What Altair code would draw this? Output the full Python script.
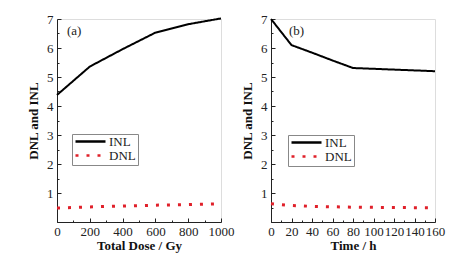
import altair as alt
import pandas as pd

# Panel (a): Total dose
dose = [0, 200, 400, 600, 800, 1000]
inl_a = [4.38, 5.36, 5.96, 6.53, 6.82, 7.02]
dnl_a = [0.48, 0.52, 0.55, 0.58, 0.60, 0.63]

# Panel (b): annealing time
time_h = [0, 20, 40, 60, 80, 160]
inl_b = [7.0, 6.10, 5.84, 5.57, 5.31, 5.20]
time_dnl = [0, 20, 40, 80, 155]
dnl_b = [0.63, 0.57, 0.54, 0.51, 0.49]

series_names = ["INL", "DNL"]
colors = ["#000000", "#e0202a"]
dashes = [[1, 0], [3, 8]]

FONT = "Liberation Serif"
W, H = 164, 203


def make_df(xs_inl, ys_inl, xs_dnl, ys_dnl):
    rows = [{"x": x, "y": y, "series": "INL"} for x, y in zip(xs_inl, ys_inl)]
    rows += [{"x": x, "y": y, "series": "DNL"} for x, y in zip(xs_dnl, ys_dnl)]
    return pd.DataFrame(rows)


def panel(df, xmax, xmaj, xstep, xtitle, tag, tagx, legx, legy):
    xscale = alt.Scale(domain=[0, xmax], nice=False)
    yscale = alt.Scale(domain=[0, 7], nice=False)
    xmajor = list(range(0, xmax + 1, xmaj))
    xminor = list(range(0, xmax + 1, xstep))
    yminor = [i * 0.5 for i in range(0, 15)]

    legend = alt.Legend(
        orient="none", legendX=legx, legendY=legy, title=None,
        symbolType="stroke", symbolSize=900, symbolStrokeWidth=2.5,
        labelFont=FONT, labelFontSize=13, labelColor="#222",
        strokeColor="#888", padding=2, rowPadding=0, labelOffset=2,
        cornerRadius=0, fillColor="white", labelLimit=100, clipHeight=11,
    )
    color = alt.Color("series:N", scale=alt.Scale(domain=series_names, range=colors), legend=legend)
    dash = alt.StrokeDash("series:N", scale=alt.Scale(domain=series_names, range=dashes), legend=legend)

    main_x = alt.Axis(values=xmajor, title=xtitle, ticks=False, tickSize=0, grid=False,
                      labelFont=FONT, labelFontSize=13, labelColor="#222", labelPadding=3,
                      labelOverlap=False, labelFlush=False, domainColor="#222", domainWidth=1,
                      titleFont=FONT, titleFontSize=13, titleFontWeight="bold", titleColor="#111",
                      titlePadding=1, format="d")
    main_y = alt.Axis(values=[1, 2, 3, 4, 5, 6, 7], title="DNL and INL", ticks=False, tickSize=0,
                      grid=False, labelFont=FONT, labelFontSize=13, labelColor="#222",
                      labelPadding=4, domainColor="#222", domainWidth=1,
                      titleFont=FONT, titleFontSize=13, titleFontWeight="bold", titleColor="#111",
                      titlePadding=6, format="d")
    in_x = alt.Axis(orient="top", offset=-H, values=xminor, labels=False, domain=False, grid=False,
                    title=None, tickColor="#222", tickWidth=1,
                    tickSize={"condition": {"test": f"datum.value % {xmaj} === 0", "value": 4}, "value": 2})
    in_y = alt.Axis(orient="right", offset=-W, values=yminor, labels=False, domain=False, grid=False,
                    title=None, tickColor="#222", tickWidth=1,
                    tickSize={"condition": {"test": "datum.value % 1 === 0", "value": 4}, "value": 2})

    l1 = alt.Chart(df).transform_filter("datum.series == 'INL'").mark_line(strokeWidth=2).encode(
        x=alt.X("x:Q", scale=xscale, axis=main_x),
        y=alt.Y("y:Q", scale=yscale, axis=main_y),
        color=color, strokeDash=dash,
    )
    l2 = alt.Chart(df).transform_filter("datum.series == 'DNL'").mark_line(strokeWidth=3, strokeCap="butt").encode(
        x=alt.X("x:Q", scale=xscale, axis=in_x),
        y=alt.Y("y:Q", scale=yscale, axis=in_y),
        color=color, strokeDash=dash,
    )
    txt = alt.Chart(pd.DataFrame({"t": [tag]})).mark_text(
        font=FONT, fontSize=13, color="#222", align="left", baseline="middle"
    ).encode(text="t:N", x=alt.value(tagx), y=alt.value(12))

    return alt.layer(l1, l2, txt).resolve_axis(x="independent", y="independent").properties(width=W, height=H)


pa = panel(make_df(dose, inl_a, dose, dnl_a), 1000, 200, 100, "Total Dose / Gy", "(a)", 10, 15, 115)
pb = panel(make_df(time_h, inl_b, time_dnl, dnl_b), 160, 20, 10, "Time / h", "(b)", 18, 17, 116)

chart = alt.hconcat(pa, pb, spacing=50, bounds="flush").resolve_legend(
    color="independent", strokeDash="independent"
).resolve_scale(color="independent", strokeDash="independent").properties(
    padding={"left": 19, "top": 4, "right": 5, "bottom": 5}
).configure_view(stroke=None).configure(background="white")

chart.save("out.html", embed_options={"renderer": "svg", "actions": False})
